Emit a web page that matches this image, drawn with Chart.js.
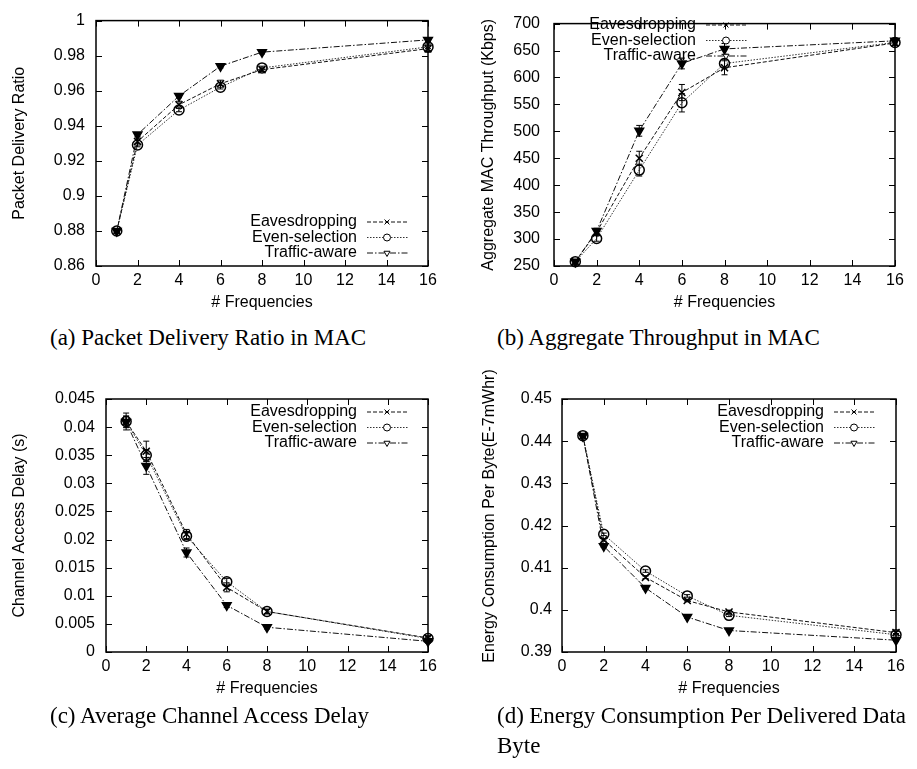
<!DOCTYPE html>
<html>
<head>
<meta charset="utf-8">
<script src="https://cdn.jsdelivr.net/npm/chart.js@4.4.1/dist/chart.umd.min.js"></script>
<style>
  body { margin: 0; background: #fff; width: 917px; height: 769px; position: relative; overflow: hidden; }
  canvas { position: absolute; }
  .caption {
    position: absolute;
    font-family: "Liberation Serif", "Times New Roman", serif;
    font-size: 23px;
    line-height: 30px;
    color: #000;
  }
</style>
</head>
<body>
<canvas id="pdrChart" width="458" height="320" style="left:0;top:0"></canvas>
<canvas id="thrChart" width="459" height="320" style="left:458px;top:0"></canvas>
<canvas id="delayChart" width="458" height="345" style="left:0;top:360px"></canvas>
<canvas id="energyChart" width="459" height="345" style="left:458px;top:360px"></canvas>

<div class="caption" style="left:50px;top:323px;white-space:nowrap">(a) Packet Delivery Ratio in MAC</div>
<div class="caption" style="left:497px;top:323px;white-space:nowrap">(b) Aggregate Throughput in MAC</div>
<div class="caption" style="left:50px;top:701px;white-space:nowrap">(c) Average Channel Access Delay</div>
<div class="caption" style="left:497px;top:701px;width:409px;text-align:justify;word-spacing:-2px">(d) Energy Consumption Per Delivered Data Byte</div>

<script>
const freqs = [1, 2, 4, 6, 8, 16];
const freqTicks = [0, 2, 4, 6, 8, 10, 12, 14, 16];
const seriesNames = ['Eavesdropping', 'Even-selection', 'Traffic-aware'];

// (a) packet delivery ratio
const pdrEaves   = [0.880, 0.931, 0.952, 0.964, 0.972, 0.984];
const pdrEven    = [0.880, 0.929, 0.949, 0.962, 0.973, 0.985];
const pdrTraffic = [0.880, 0.935, 0.957, 0.974, 0.982, 0.989];
const pdrErrEaves   = [0.001, 0.002, 0.002, 0.002, 0.001, 0.002];
const pdrErrEven    = [0.001, 0.001, 0.001, 0.001, 0.001, 0.001];
const pdrErrTraffic = [0.001, 0.001, 0.001, 0.001, 0.001, 0.001];
const pdrTicks = [0.86, 0.88, 0.9, 0.92, 0.94, 0.96, 0.98, 1];

// (b) aggregate MAC throughput (Kbps)
const thrEaves   = [258, 313, 450, 572, 618, 664];
const thrEven    = [258, 301, 428, 553, 626, 665];
const thrTraffic = [258, 315, 501, 626, 653, 668];
const thrErrEaves   = [4, 6, 13, 15, 13, 5];
const thrErrEven    = [4, 5, 11, 17, 8, 5];
const thrErrTraffic = [3, 5, 10, 10, 10, 4];
const thrTicks = [250, 300, 350, 400, 450, 500, 550, 600, 650, 700];

// (c) channel access delay (s)
const delayEaves   = [0.0410, 0.0357, 0.0210, 0.0115, 0.0072, 0.0025];
const delayEven    = [0.0410, 0.0350, 0.0206, 0.0125, 0.0072, 0.0024];
const delayTraffic = [0.0409, 0.0331, 0.0177, 0.0083, 0.0044, 0.0019];
const delayErrEaves   = [0.0015, 0.0018, 0.0008, 0.0008, 0.0004, 0.0004];
const delayErrEven    = [0.0010, 0.0010, 0.0006, 0.0006, 0.0004, 0.0003];
const delayErrTraffic = [0.0010, 0.0015, 0.0008, 0.0004, 0.0003, 0.0003];
const delayTicks = [0, 0.005, 0.01, 0.015, 0.02, 0.025, 0.03, 0.035, 0.04, 0.045];

// (d) energy per byte
const energyEaves   = [0.4413, 0.4166, 0.4077, 0.4022, 0.3995, 0.3946];
const energyEven    = [0.4413, 0.4179, 0.4092, 0.4033, 0.3987, 0.3941];
const energyTraffic = [0.4412, 0.4151, 0.4052, 0.3983, 0.3951, 0.3928];
const energyErrEaves   = [0.0003, 0.0003, 0.0003, 0.0003, 0.0003, 0.0003];
const energyErrEven    = [0.0003, 0.0003, 0.0003, 0.0003, 0.0003, 0.0003];
const energyErrTraffic = [0.0003, 0.0003, 0.0003, 0.0003, 0.0003, 0.0003];
const energyTicks = [0.39, 0.4, 0.41, 0.42, 0.43, 0.44, 0.45];

// gnuplot-ish line types
const styles = [
  { dash: [4, 2], color: '#111', point: 'crossRot', rotation: 0, fill: '#000' },
  { dash: [1.5, 1.5], color: '#333', point: 'circle', rotation: 0, fill: 'rgba(0,0,0,0)' },
  { dash: [6, 2, 1.5, 2], color: '#111', point: 'triangle', rotation: 180, fill: '#000' }
];

const font16 = { family: 'Liberation Sans', size: 16 };

function makeChart(id, o) {
  const datasets = o.series.map((vals, i) => {
    const st = styles[i];
    return {
      label: seriesNames[i],
      data: freqs.map((f, k) => ({ x: f, y: vals[k] })),
      borderColor: st.color,
      borderWidth: 1,
      borderDash: st.dash,
      pointStyle: st.point,
      pointRotation: st.rotation,
      pointRadius: 5,
      pointBorderColor: '#000',
      pointBackgroundColor: st.fill,
      pointBorderWidth: 1.5,
      fill: false,
      tension: 0,
      clip: false
    };
  });

  // error bars
  const errPlugin = {
    id: 'errs',
    afterDatasetsDraw(chart) {
      const { ctx, scales: { x, y } } = chart;
      ctx.save();
      ctx.strokeStyle = '#000';
      ctx.lineWidth = 1;
      o.errors.forEach((errs, i) => {
        const vals = o.series[i];
        freqs.forEach((f, k) => {
          const px = x.getPixelForValue(f);
          const y1 = y.getPixelForValue(vals[k] - errs[k]);
          const y2 = y.getPixelForValue(vals[k] + errs[k]);
          ctx.beginPath();
          ctx.moveTo(px, y1); ctx.lineTo(px, y2);
          ctx.moveTo(px - 3, y1); ctx.lineTo(px + 3, y1);
          ctx.moveTo(px - 3, y2); ctx.lineTo(px + 3, y2);
          ctx.stroke();
        });
      });
      ctx.restore();
    }
  };

  // frame with inward ticks on all four sides
  const boxPlugin = {
    id: 'box',
    afterDatasetsDraw(chart) {
      const { ctx, chartArea: a, scales: { x, y } } = chart;
      ctx.save();
      ctx.strokeStyle = '#000';
      ctx.lineWidth = 1;
      ctx.beginPath();
      x.ticks.forEach(t => {
        const px = Math.round(x.getPixelForValue(t.value)) + 0.5;
        ctx.moveTo(px, a.bottom); ctx.lineTo(px, a.bottom - 6);
        ctx.moveTo(px, a.top); ctx.lineTo(px, a.top + 6);
      });
      y.ticks.forEach(t => {
        const py = Math.round(y.getPixelForValue(t.value)) + 0.5;
        ctx.moveTo(a.left, py); ctx.lineTo(a.left + 6, py);
        ctx.moveTo(a.right, py); ctx.lineTo(a.right - 6, py);
      });
      ctx.stroke();
      ctx.lineWidth = 1.5;
      ctx.strokeRect(a.left, a.top, a.right - a.left, a.bottom - a.top);
      ctx.restore();
    }
  };

  // key box like gnuplot: label, then sample line with marker
  const legendPlugin = {
    id: 'gnuLegend',
    afterDraw(chart) {
      const { ctx } = chart;
      ctx.save();
      ctx.font = '16px "Liberation Sans"';
      ctx.textAlign = 'right';
      ctx.textBaseline = 'middle';
      chart.data.datasets.forEach((ds, i) => {
        const tx = o.legend.x;
        const ty = o.legend.y + i * 15.5;
        ctx.fillStyle = '#000';
        ctx.fillText(ds.label, tx, ty);
        ctx.strokeStyle = ds.borderColor;
        ctx.lineWidth = 1;
        ctx.setLineDash(ds.borderDash);
        ctx.beginPath();
        ctx.moveTo(tx + 10, ty); ctx.lineTo(tx + 52, ty);
        ctx.stroke();
        ctx.setLineDash([]);
        ctx.strokeStyle = '#000';
        ctx.fillStyle = '#fff';
        Chart.helpers.drawPoint(ctx, {
          pointStyle: ds.pointStyle, rotation: ds.pointRotation, radius: 3.5, borderWidth: 1
        }, tx + 30, ty);
      });
      ctx.restore();
    }
  };

  // y title drawn by hand so long titles are not squeezed
  const titlePlugin = {
    id: 'sideTitle',
    afterDraw(chart) {
      const { ctx, chartArea: a } = chart;
      ctx.save();
      ctx.translate(o.yTitle.x, (a.top + a.bottom) / 2 + o.yTitle.shift);
      ctx.rotate(-Math.PI / 2);
      ctx.font = '16px "Liberation Sans"';
      ctx.fillStyle = '#000';
      ctx.textAlign = 'center';
      ctx.textBaseline = 'middle';
      ctx.fillText(o.yTitle.text, 0, 0);
      ctx.restore();
    }
  };

  return new Chart(document.getElementById(id), {
    type: 'line',
    data: { datasets },
    plugins: [errPlugin, boxPlugin, legendPlugin, titlePlugin],
    options: {
      responsive: false,
      animation: false,
      layout: { padding: o.pad },
      plugins: { legend: { display: false }, tooltip: { enabled: false } },
      scales: {
        x: {
          type: 'linear', min: 0, max: 16,
          afterBuildTicks: s => { s.ticks = freqTicks.map(v => ({ value: v })); },
          afterFit: s => { s.height = 50; },
          grid: { display: false, drawTicks: false },
          border: { display: false },
          ticks: { color: '#000', font: font16, padding: 5, maxRotation: 0, autoSkip: false },
          title: { display: true, text: '# Frequencies', color: '#000', font: font16, padding: { top: 0, bottom: 4 } }
        },
        y: {
          type: 'linear', min: o.yTicks[0], max: o.yTicks[o.yTicks.length - 1],
          afterBuildTicks: s => { s.ticks = o.yTicks.map(v => ({ value: v })); },
          afterFit: s => { s.width = o.yWidth; },
          grid: { display: false, drawTicks: false },
          border: { display: false },
          ticks: { color: '#000', font: font16, padding: o.yPad, autoSkip: false,
                   callback: v => String(+v.toFixed(4)) }
        }
      }
    }
  });
}

makeChart('pdrChart', {
  series: [pdrEaves, pdrEven, pdrTraffic],
  errors: [pdrErrEaves, pdrErrEven, pdrErrTraffic],
  yTicks: pdrTicks,
  pad: { left: 0, top: 13, right: 30, bottom: 4 },
  yWidth: 96, yPad: 11,
  legend: { x: 357, y: 222 },
  yTitle: { text: 'Packet Delivery Ratio', x: 20, shift: 0 }
});

makeChart('thrChart', {
  series: [thrEaves, thrEven, thrTraffic],
  errors: [thrErrEaves, thrErrEven, thrErrTraffic],
  yTicks: thrTicks,
  pad: { left: 0, top: 13, right: 22, bottom: 4 },
  yWidth: 96, yPad: 14,
  legend: { x: 238, y: 25 },
  yTitle: { text: 'Aggregate MAC Throughput (Kbps)', x: 31, shift: 0 }
});

makeChart('delayChart', {
  series: [delayEaves, delayEven, delayTraffic],
  errors: [delayErrEaves, delayErrEven, delayErrTraffic],
  yTicks: delayTicks,
  pad: { left: 0, top: 39, right: 30, bottom: 3 },
  yWidth: 106, yPad: 11,
  legend: { x: 357, y: 52 },
  yTitle: { text: 'Channel Access Delay (s)', x: 20, shift: 0 }
});

makeChart('energyChart', {
  series: [energyEaves, energyEven, energyTraffic],
  errors: [energyErrEaves, energyErrEven, energyErrTraffic],
  yTicks: energyTicks,
  pad: { left: 0, top: 39, right: 21, bottom: 3 },
  yWidth: 104, yPad: 10,
  legend: { x: 366, y: 52 },
  yTitle: { text: 'Energy Consumption Per Byte(E-7mWhr)', x: 32, shift: -9.5 }
});
</script>
</body>
</html>
